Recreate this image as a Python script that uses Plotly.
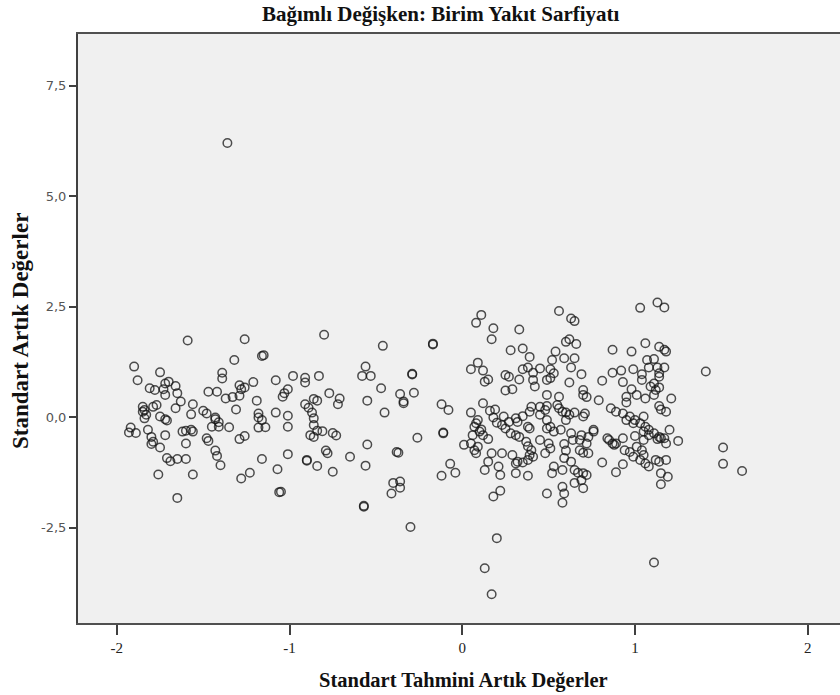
import plotly.graph_objects as go

# Standardized predicted values (x) and standardized residuals (y)
left_x = [-1.36, -1.59, -1.26, -0.80, -1.16, -1.15, -1.32, -1.90, -1.88, -1.75, -1.39, -1.39, -1.21, -1.08,
          -0.98, -0.91, -0.91, -0.83, -1.81, -1.78, -1.72, -1.70, -1.66, -1.73, -1.65, -1.72, -1.63, -1.47,
          -1.42, -1.37, -1.33, -1.29, -1.28, -1.29, -1.26, -1.01, -1.03, -1.04, -0.77, -0.71, -0.72, -0.86,
          -0.84, -0.91, -0.89, -0.87, -1.19, -1.56, -1.31, -1.08, -1.01, -1.01, -1.85, -1.84, -1.85, -1.83,
          -1.84, -1.79, -1.77, -1.66, -1.57, -1.50, -1.48, -1.75, -1.72, -1.71, -1.43, -1.43, -1.41, -1.41,
          -1.45, -1.35, -1.18, -1.18, -1.16, -1.18, -1.14, -0.86, -0.86, -0.84, -0.88, -0.86, -0.81, -0.75,
          -0.73, -1.92, -1.93, -1.89, -1.82, -1.80, -1.79, -1.80, -1.75, -1.72, -1.62, -1.60, -1.56, -1.57,
          -1.60, -1.48, -1.47, -1.29, -1.26, -1.43, -1.42, -1.40, -1.71, -1.69, -1.65, -1.60, -1.76, -1.56,
          -1.65, -1.28, -1.23, -1.16, -1.07, -1.06, -1.05, -1.01, -0.90, -0.90, -0.84, -0.79, -0.78, -0.75,
          -0.65]
left_y = [6.20, 1.73, 1.76, 1.86, 1.38, 1.40, 1.29, 1.14, 0.83, 1.01, 1.00, 0.87, 0.79, 0.83,
          0.93, 0.89, 0.78, 0.93, 0.65, 0.61, 0.76, 0.80, 0.70, 0.63, 0.54, 0.50, 0.35, 0.57,
          0.57, 0.42, 0.45, 0.72, 0.63, 0.48, 0.67, 0.63, 0.54, 0.46, 0.54, 0.42, 0.29, 0.41,
          0.37, 0.29, 0.21, 0.10, 0.37, 0.29, 0.17, 0.10, 0.03, -0.22, 0.23, 0.16, 0.12, 0.05,
          -0.03, 0.23, 0.27, 0.20, 0.06, 0.14, 0.08, 0.01, -0.05, -0.08, -0.01, -0.05, -0.12, -0.22,
          -0.22, -0.23, 0.08, -0.01, -0.07, -0.24, -0.23, -0.03, -0.18, -0.31, -0.41, -0.45, -0.32, -0.36,
          -0.42, -0.24, -0.35, -0.36, -0.29, -0.45, -0.56, -0.61, -0.69, -0.41, -0.33, -0.31, -0.33, -0.29,
          -0.60, -0.48, -0.54, -0.50, -0.43, -0.76, -0.88, -1.09, -0.93, -1.00, -0.95, -0.95, -1.30, -1.30,
          -1.83, -1.39, -1.26, -0.95, -1.18, -1.70, -1.69, -0.84, -0.99, -0.97, -1.11, -0.76, -0.82, -1.24,
          -0.90]

mid_x = [-0.46, -0.17, -0.17, -0.58, -0.56, -0.53, -0.47, -0.55, -0.45, -0.29, -0.29, -0.36, -0.34, -0.34,
         -0.28, -0.12, -0.08, -0.11, -0.11, -0.26, -0.55, -0.56, -0.37, -0.38, -0.40, -0.36, -0.36, -0.41,
         -0.57, -0.57, -0.07, -0.04, -0.12, -0.30]
mid_y = [1.61, 1.64, 1.66, 0.93, 1.14, 0.93, 0.65, 0.37, 0.10, 0.96, 0.98, 0.52, 0.31, 0.35,
         0.55, 0.29, 0.16, -0.37, -0.35, -0.47, -0.62, -1.10, -0.81, -0.79, -1.49, -1.46, -1.60, -1.73,
         -2.03, -2.01, -1.06, -1.26, -1.33, -2.49]

right_x = [1.03, 1.13, 1.17, 0.56, 0.63, 0.65, 0.08, 0.11, 0.18, 0.17, 0.33, 0.62, 0.60, 0.66,
           0.87, 0.98, 1.06, 1.14, 1.17, 1.18, 0.28, 0.35, 0.39, 0.54, 0.52, 0.59, 0.65, 0.09,
           0.05, 0.12, 0.45, 0.38, 0.35, 0.41, 0.51, 0.53, 0.51, 0.49, 0.63, 0.69, 0.81, 0.87,
           0.92, 0.93, 0.99, 1.04, 1.07, 1.11, 1.08, 1.13, 1.17, 1.14, 1.04, 1.11, 0.13, 0.15,
           0.25, 0.27, 0.33, 0.41, 0.42, 0.25, 0.29, 0.62, 0.70, 0.70, 0.72, 0.79, 0.98, 0.95,
           1.01, 1.06, 1.09, 1.14, 1.12, 1.11, 1.21, 1.14, 1.15, 1.18, 0.12, 0.05, 0.16, 0.19,
           0.18, 0.09, 0.07, 0.06, 0.08, 0.11, 0.24, 0.27, 0.25, 0.31, 0.20, 0.23, 0.40, 0.45,
           0.49, 0.48, 0.39, 0.56, 0.55, 0.56, 0.58, 0.60, 0.62, 0.60, 0.49, 0.71, 0.70, 0.65,
           0.86, 0.89, 0.93, 0.97, 1.00, 1.03, 1.06, 1.08, 1.11, 1.14, 1.17, 0.95, 0.99, 1.05,
           1.08, 1.13, 1.05, 1.20, 1.25, 1.18, 1.15, 1.00, 1.05, 0.93, 0.94, 0.89, 0.88, 0.84,
           0.85, 0.87, 0.97, 0.99, 1.03, 1.06, 1.08, 1.01, 1.05, 1.12, 1.14, 1.18, 1.15, 1.19,
           1.15, 0.93, 0.89, 0.81, 0.73, 0.76, 0.72, 0.69, 0.68, 0.63, 0.64, 0.59, 0.60, 0.59,
           0.63, 0.65, 0.67, 0.70, 0.72, 0.69, 0.65, 0.70, 0.53, 0.52, 0.58, 0.58, 0.59, 0.58,
           0.49, 0.51, 0.49, 0.53, 0.57, 0.45, 0.50, 0.51, 0.48, 0.40, 0.39, 0.41, 0.38, 0.35,
           0.32, 0.29, 0.37, 0.38, 0.31, 0.33, 0.28, 0.31, 0.31, 0.38, 0.21, 0.22, 0.13, 0.15,
           0.17, 0.23, 0.05, 0.07, 0.09, 0.08, 0.01, 0.15, 0.12, 0.10, 0.22, 0.18, 0.49, 0.45,
           0.68, 0.70, 0.73, 0.76, 0.35, 0.32, 0.38, 0.39, 1.41, 1.51, 1.51, 1.62, 1.14, 0.95,
           1.04, 0.20, 0.13, 0.17, 1.11]
right_y = [2.47, 2.59, 2.48, 2.40, 2.23, 2.17, 2.13, 2.31, 2.01, 1.76, 1.98, 1.76, 1.70, 1.65,
           1.52, 1.48, 1.67, 1.59, 1.52, 1.48, 1.51, 1.55, 1.36, 1.48, 1.29, 1.33, 1.33, 1.23,
           1.08, 1.05, 1.10, 1.12, 1.08, 1.00, 1.08, 0.99, 0.88, 0.84, 1.12, 0.97, 0.82, 1.00,
           1.05, 0.79, 1.08, 0.97, 1.29, 1.31, 1.12, 1.12, 1.12, 0.91, 0.84, 0.76, 0.80, 0.85,
           0.95, 0.91, 0.85, 0.84, 0.69, 0.60, 0.63, 0.78, 0.61, 0.50, 0.45, 0.38, 0.63, 0.46,
           0.50, 0.42, 0.69, 0.67, 0.61, 0.50, 0.42, 0.25, 0.17, 0.12, 0.31, 0.10, 0.14, 0.17,
           -0.01, -0.07, -0.22, -0.41, -0.14, -0.28, 0.01, -0.11, -0.26, -0.03, -0.13, -0.18, 0.23, 0.23,
           0.25, 0.16, 0.12, 0.46, 0.27, 0.20, 0.12, 0.10, 0.05, -0.07, 0.50, 0.08, 0.01, 0.10,
           0.20, 0.12, 0.08, 0.01, -0.07, -0.14, -0.22, -0.29, -0.37, -0.45, -0.48, -0.07, -0.14, -0.33,
           -0.41, -0.50, 0.01, -0.29, -0.54, -0.60, -0.48, -0.43, -0.52, -0.48, -0.75, -0.60, -0.63, -0.48,
           -0.52, -0.60, -0.79, -0.90, -0.97, -1.05, -1.12, -0.67, -0.86, -0.97, -1.01, -0.97, -1.27, -1.35,
           -1.52, -1.07, -1.25, -1.03, -0.45, -0.29, -0.60, -0.41, -0.52, -0.37, -0.52, -0.61, -0.76, -0.93,
           -1.01, -1.20, -1.26, -1.27, -1.31, -1.43, -1.49, -1.61, -1.12, -1.27, -1.20, -1.58, -1.73, -1.94,
           -1.73, -0.22, -0.26, -0.33, -0.29, -0.52, -0.60, -0.71, -0.82, -0.75, -0.86, -0.90, -0.97, -1.03,
           -1.01, -0.86, -0.56, -0.66, -0.41, -0.45, -0.37, -1.05, -1.27, -1.33, -1.12, -1.31, -1.20, -1.01,
           -0.82, -0.82, -0.60, -0.75, -0.67, -0.82, -0.63, -0.50, -0.41, -0.33, -1.67, -1.80, -0.07, 0.05,
           -0.75, -0.81, -0.82, -0.33, 0.02, -0.11, -0.22, -0.26, 1.03, -0.69, -1.06, -1.22, 0.99, 0.33,
           -0.75, -2.74, -3.42, -4.01, -3.29]

x_ticks = [-2, -1, 0, 1, 2]
x_tick_text = ["-2", "-1", "0", "1", "2"]
y_ticks = [-2.5, 0.0, 2.5, 5.0, 7.5]
y_tick_text = ["-2,5", "0,0", "2,5", "5,0", "7,5"]

title_text = "Bağımlı Değişken: Birim Yakıt Sarfiyatı"
x_title = "Standart Tahmini Artık Değerler"
y_title = "Standart Artık Değerler"

xs = left_x + mid_x + right_x
ys = left_y + mid_y + right_y

fig = go.Figure()
fig.add_trace(go.Scatter(
    x=xs, y=ys, mode="markers",
    marker=dict(symbol="circle-open", size=8.5, color="rgba(20,20,20,0.75)",
                line=dict(width=1.5, color="rgba(20,20,20,0.75)")),
    showlegend=False, hoverinfo="skip",
))

serif = "Liberation Serif, Times New Roman, serif"

L, R, T, B = 78, 0, 34, 72
W, H = 840, 695
plot_w = W - L - R
plot_h = H - T - B

fig.update_layout(
    width=W, height=H,
    margin=dict(l=L, r=R, t=T, b=B),
    paper_bgcolor="white",
    plot_bgcolor="#F0F0F0",
    showlegend=False,
    xaxis=dict(
        range=[-2.225, 2.187], tickvals=x_ticks, ticktext=x_tick_text,
        showgrid=False, zeroline=False, showline=True, linecolor="#505050", linewidth=2,
        mirror=True, ticks="outside", ticklen=10, tickwidth=1.5, tickcolor="#404040",
        tickfont=dict(family=serif, size=15, color="#222"),
    ),
    yaxis=dict(
        range=[-4.66, 8.665], tickvals=y_ticks, ticktext=y_tick_text,
        showgrid=False, zeroline=False, showline=True, linecolor="#404040", linewidth=2,
        ticks="outside", ticklen=7, tickwidth=1.5, tickcolor="#404040",
        tickfont=dict(family="DejaVu Sans, sans-serif", size=13, color="#555"),
    ),
    annotations=[
        dict(text="<b>" + title_text + "</b>", xref="paper", yref="paper", showarrow=False,
             x=(441 - L) / plot_w, y=1 + (T - 14) / plot_h, xanchor="center", yanchor="middle",
             font=dict(family=serif, size=21, color="#111")),
        dict(text="<b>" + x_title + "</b>", xref="paper", yref="paper", showarrow=False,
             x=(463 - L) / plot_w, y=-(680 - (H - B)) / plot_h, xanchor="center", yanchor="middle",
             font=dict(family=serif, size=20.5, color="#111")),
        dict(text="<b>" + y_title + "</b>", xref="paper", yref="paper", showarrow=False,
             x=-(L - 20) / plot_w, y=((H - B) - 331) / plot_h, xanchor="center", yanchor="middle",
             textangle=-90, font=dict(family=serif, size=23, color="#111")),
    ],
)

fig.write_html("out.html")
